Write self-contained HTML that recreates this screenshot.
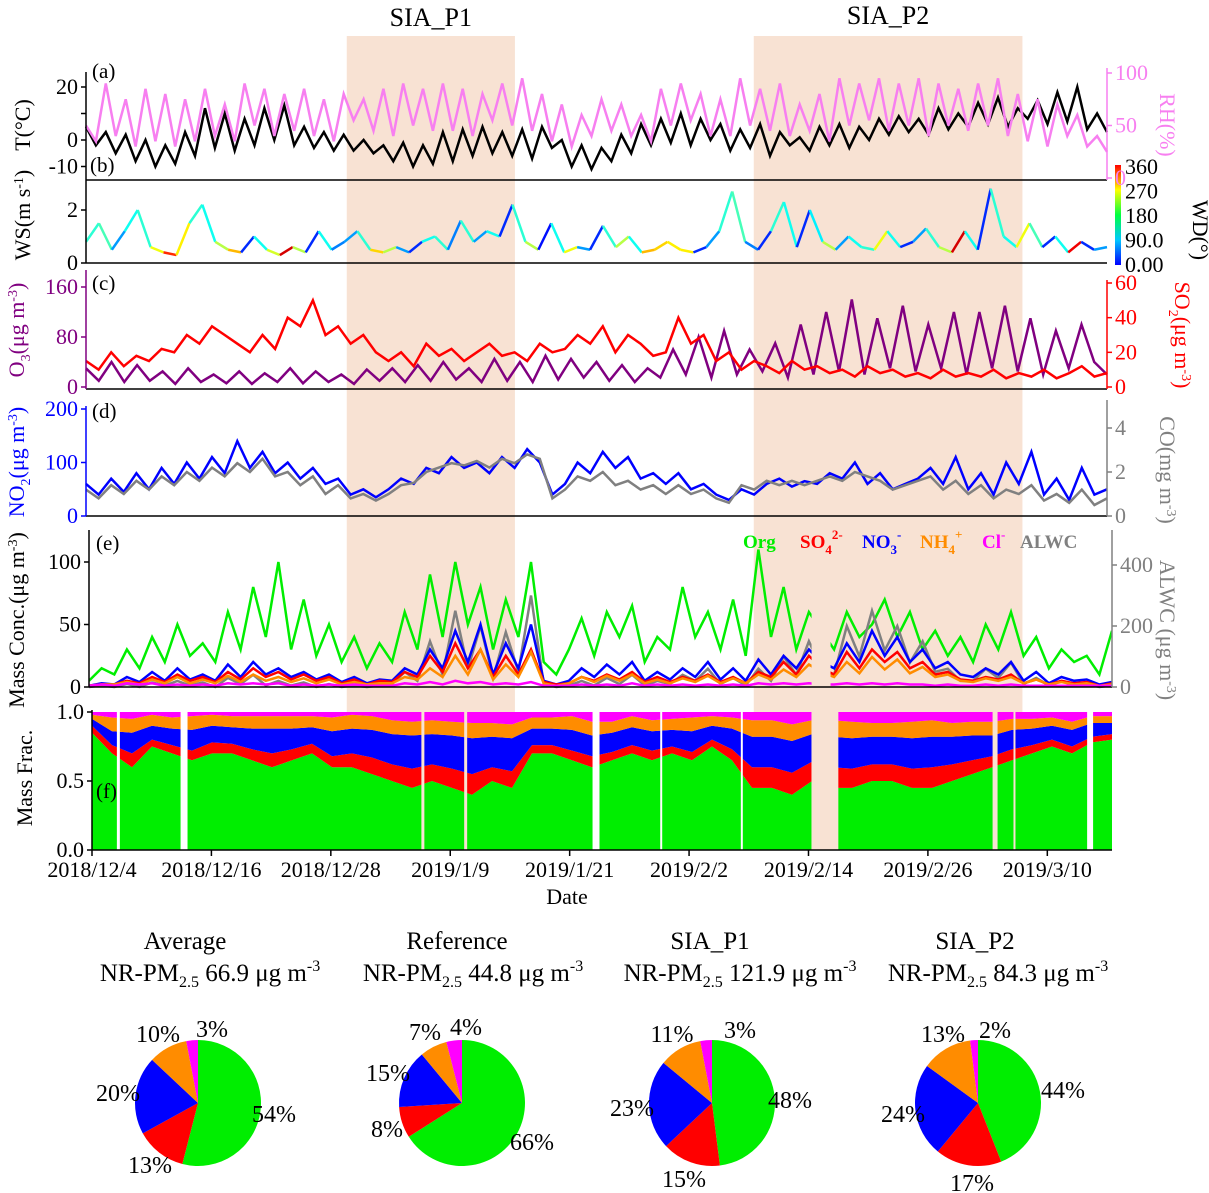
<!DOCTYPE html>
<html><head><meta charset="utf-8"><style>
body{margin:0;background:#fff}
svg{display:block}
text{font-family:"Liberation Serif","DejaVu Serif",serif}
</style></head><body>
<svg id="chart" width="1209" height="1193" viewBox="0 0 1209 1193" xmlns="http://www.w3.org/2000/svg" font-family="Liberation Serif, serif">
<defs>
<linearGradient id="jet" x1="0" y1="1" x2="0" y2="0">
<stop offset="0" stop-color="#0000ff"/><stop offset="0.25" stop-color="#00c8ff"/><stop offset="0.5" stop-color="#00ff40"/><stop offset="0.75" stop-color="#ffff00"/><stop offset="1" stop-color="#ff0000"/>
</linearGradient>
</defs>
<g id="shade"></g>
<g id="plots"></g>
<g id="axes"></g>
<g id="texts" font-size="20" fill="#000"></g>
<g id="pies"></g>
</svg>
<script>
// ---------- data ----------
const totalDays = 102.5;
const dateTicks = ["2018/12/4","2018/12/16","2018/12/28","2019/1/9","2019/1/21","2019/2/2","2019/2/14","2019/2/26","2019/3/10"];
const dateTickDays = [0,12,24,36,48,60,72,84,96];
const periods = [[25.6,42.5],[66.5,93.5]];
const periodNames = ["SIA_P1","SIA_P2"];
const tempC = [5,-2,3,-5,2,-8,0,-10,-2,-9,3,-6,12,-3,10,-4,8,-2,12,0,13,-2,5,-3,3,-4,2,-4,0,-5,-2,-8,-1,-10,-2,-9,3,-8,4,-6,5,-5,3,-6,4,-7,5,-3,0,-10,-2,-11,-3,-8,2,-5,6,-2,8,-1,10,-2,8,0,6,-4,4,-3,6,-6,3,-2,1,-4,5,-2,6,-3,5,0,8,2,9,3,8,2,12,4,10,5,14,6,16,5,12,8,15,6,18,7,20,4,10,3];
const rh = [50,35,90,40,75,30,85,35,80,30,75,35,85,40,70,35,90,50,85,40,80,45,85,40,75,35,80,55,75,45,85,40,90,50,85,45,90,45,85,40,80,55,90,50,95,45,80,35,70,30,60,40,75,45,70,40,60,35,85,50,90,55,80,40,75,40,95,50,85,45,90,40,70,45,80,35,95,50,90,55,95,45,90,50,95,40,90,50,85,45,90,50,95,40,80,35,75,30,70,40,60,30,40,25];
const ws = [0.8,1.5,0.5,1.2,2.0,0.6,0.4,0.3,1.5,2.2,0.8,0.5,0.4,1.0,0.5,0.3,0.6,0.4,1.2,0.5,0.8,1.2,0.5,0.4,0.6,0.4,0.8,1.0,0.5,1.6,0.8,1.2,1.0,2.2,0.8,0.5,1.5,0.4,0.6,0.5,1.4,0.6,1.0,0.4,0.5,0.8,0.5,0.4,0.6,1.2,2.7,0.8,0.5,1.2,2.3,0.6,2.0,0.8,0.5,1.0,0.6,0.5,1.2,0.6,0.8,1.3,0.6,0.4,1.2,0.5,2.8,1.0,0.6,1.5,0.6,1.0,0.4,0.8,0.5,0.6];
const wd = [150,160,100,140,150,220,300,230,150,140,200,250,60,140,210,330,200,60,140,90,100,150,240,200,100,60,140,150,90,150,100,140,60,150,200,50,140,220,100,60,150,200,140,250,240,230,230,60,100,150,160,90,60,150,140,60,130,200,100,140,150,220,140,60,100,150,200,330,140,60,150,140,220,160,60,140,320,60,100,200];
const o3 = [30,10,40,8,35,10,25,5,30,8,20,6,25,5,22,8,30,6,25,8,20,5,28,10,30,8,35,10,40,12,30,8,45,10,40,8,50,12,45,15,40,10,35,8,30,15,60,20,80,15,90,20,60,25,70,15,100,20,120,25,140,20,110,30,130,25,100,30,120,20,120,30,130,25,110,20,90,30,100,40,20];
const so2 = [15,10,20,12,18,15,22,20,30,25,35,30,25,20,30,22,40,35,50,30,35,25,30,20,15,20,12,25,18,22,15,20,25,18,20,15,25,20,22,30,25,35,20,30,25,18,20,40,25,30,15,20,10,15,12,8,15,10,12,8,10,6,12,8,10,6,8,5,10,6,8,6,10,5,8,6,10,5,8,12,6,8];
const no2 = [60,40,70,45,80,50,90,60,100,70,110,80,140,90,120,80,100,70,90,60,70,40,50,35,50,70,60,90,80,110,90,100,80,110,90,125,100,40,60,100,80,120,90,110,70,80,60,80,50,60,40,30,50,40,60,70,55,65,60,80,70,100,60,80,50,60,70,90,60,110,50,80,40,100,60,120,40,70,30,90,40,50];
const co = [1.2,0.8,1.4,1.0,1.6,1.2,1.8,1.4,2.0,1.6,2.2,1.8,2.4,2.0,2.6,1.8,2.0,1.4,1.8,1.0,1.4,0.8,1.0,0.7,1.0,1.4,1.5,2.0,2.2,2.4,2.3,2.5,2.2,2.6,2.4,2.8,2.6,0.8,1.2,1.8,1.6,2.0,1.4,1.6,1.2,1.4,1.0,1.4,1.0,1.2,0.8,0.6,1.4,1.2,1.6,1.4,1.6,1.4,1.6,1.8,1.6,2.0,1.8,1.6,1.2,1.4,1.6,1.8,1.2,1.6,1.0,1.4,0.8,1.2,1.0,1.4,0.7,1.0,0.6,1.2,0.5,0.8];
const org = [5,15,10,30,15,40,20,50,25,35,20,60,30,80,40,100,30,70,25,50,20,40,15,35,20,60,30,90,40,100,50,80,30,70,40,100,20,10,30,55,25,60,40,65,20,40,30,80,40,60,30,70,25,110,40,80,30,60,45,30,60,40,50,70,40,60,30,45,25,40,20,50,30,60,25,40,15,30,20,25,10,45];
const no3 = [1,3,2,8,4,12,5,15,6,10,5,18,8,20,10,15,8,12,6,10,4,8,3,6,5,15,10,30,15,45,20,50,10,35,15,50,5,2,5,15,8,18,10,20,5,12,6,15,8,20,6,15,5,22,10,25,15,30,20,15,35,20,45,25,40,20,30,15,20,10,8,15,10,20,5,12,3,8,5,6,2,4];
const so4 = [1,2,2,5,3,8,4,10,5,8,4,12,6,15,8,12,6,10,5,8,3,6,2,5,4,12,8,25,12,35,15,30,8,25,10,30,4,2,3,8,5,10,6,12,4,8,4,8,5,10,4,8,3,12,8,20,10,25,15,10,28,15,30,20,28,15,20,10,12,6,5,8,6,10,3,6,2,5,3,4,1,3];
const nh4 = [1,2,2,4,2,6,3,8,3,6,3,9,4,10,5,8,4,7,3,6,2,4,2,3,3,8,6,15,8,25,10,30,6,18,8,28,3,1,3,8,4,9,5,10,3,6,3,7,4,9,3,7,3,10,6,14,8,18,12,8,20,11,24,14,22,11,16,8,10,5,4,7,5,8,3,6,2,4,2,3,1,2];
const cl = [1,2,1,3,2,3,1,2,1,2,1,3,2,3,2,3,1,2,1,2,1,2,1,1,1,3,2,4,2,5,3,4,2,3,2,4,1,1,1,2,1,2,1,3,1,2,1,2,1,2,1,2,1,3,2,3,2,3,2,2,3,2,3,2,3,2,2,1,2,1,1,2,1,2,1,1,1,1,1,1,1,1];
const alwc = [0,5,0,10,0,15,5,20,5,15,0,30,10,40,5,20,5,15,0,10,0,5,0,5,10,50,20,150,40,250,60,200,30,180,50,300,10,0,5,20,5,30,10,40,5,20,10,40,20,60,10,30,5,60,20,100,40,150,60,40,200,100,250,120,200,80,150,50,60,20,20,60,30,80,10,30,5,20,5,10,0,5];
const concGaps = [[72.4,74.3]];
const fracOrg = [0.85,0.7,0.6,0.75,0.7,0.65,0.7,0.7,0.65,0.6,0.65,0.7,0.6,0.6,0.55,0.5,0.45,0.5,0.45,0.4,0.5,0.45,0.7,0.7,0.65,0.6,0.65,0.7,0.65,0.7,0.65,0.75,0.65,0.45,0.45,0.4,0.5,0.45,0.45,0.5,0.5,0.45,0.45,0.5,0.55,0.6,0.65,0.7,0.75,0.7,0.78,0.8];
const fracSO4 = [0.05,0.06,0.1,0.05,0.06,0.07,0.08,0.07,0.08,0.1,0.08,0.07,0.08,0.1,0.12,0.12,0.14,0.12,0.14,0.15,0.1,0.12,0.06,0.06,0.07,0.08,0.06,0.06,0.07,0.05,0.06,0.05,0.08,0.15,0.15,0.16,0.14,0.15,0.14,0.12,0.12,0.14,0.15,0.12,0.1,0.08,0.08,0.06,0.05,0.05,0.04,0.04];
const fracNO3 = [0.05,0.1,0.15,0.1,0.12,0.15,0.12,0.12,0.15,0.18,0.15,0.12,0.18,0.18,0.2,0.22,0.24,0.22,0.24,0.26,0.22,0.24,0.12,0.12,0.15,0.15,0.14,0.13,0.14,0.12,0.15,0.1,0.15,0.22,0.22,0.23,0.2,0.22,0.22,0.2,0.2,0.22,0.22,0.2,0.18,0.15,0.14,0.12,0.1,0.12,0.1,0.08];
const fracNH4 = [0.04,0.1,0.1,0.08,0.08,0.1,0.08,0.08,0.09,0.09,0.09,0.08,0.1,0.1,0.1,0.1,0.1,0.1,0.1,0.11,0.1,0.1,0.08,0.08,0.1,0.1,0.08,0.08,0.08,0.08,0.1,0.07,0.08,0.12,0.12,0.12,0.1,0.12,0.12,0.1,0.1,0.12,0.12,0.1,0.1,0.1,0.08,0.07,0.06,0.06,0.05,0.05];
const fracGaps = [[2.5,2.8],[8.9,9.6],[33.1,33.4],[37.4,37.7],[50.3,51],[57.1,57.3],[65.2,65.4],[72.3,75],[90.5,91],[92.6,92.8],[100,100.6]];
const pieNames = ["Average","Reference","SIA_P1","SIA_P2"];
const pieTotals = ["66.9","44.8","121.9","84.3"];
const pieOrg = [54,66,48,44];
const pieSO4 = [13,8,15,17];
const pieNO3 = [20,15,23,24];
const pieNH4 = [10,7,11,13];
const pieCl = [3,4,3,2];

// ---------- helpers ----------
const NS="http://www.w3.org/2000/svg";
function mk(tag,attrs,parent){const e=document.createElementNS(NS,tag);for(const k in attrs)e.setAttribute(k,attrs[k]);(parent||document.getElementById('plots')).appendChild(e);return e;}
const X0=86,X1=1107;
function xDay(d,x0,x1){x0=x0||X0;x1=x1||X1;return x0+(d/totalDays)*(x1-x0);}
function lin(v,v0,v1,p0,p1){return p0+(v-v0)/(v1-v0)*(p1-p0);}
function idxDay(i,n){return i*totalDays/(n-1);}
function linePath(arr,yf,x0,x1){return arr.map((v,i)=>(i?'L':'M')+xDay(idxDay(i,arr.length),x0,x1).toFixed(1)+','+yf(v).toFixed(1)).join('');}
const shadeG=document.getElementById('shade');
const axesG=document.getElementById('axes');
const textG=document.getElementById('texts');
function txt(s,x,y,opt,parent){opt=opt||{};const t=mk('text',Object.assign({x:x,y:y,'font-family':'Liberation Serif, serif'},opt.a||{}),parent||textG);t.innerHTML=s;return t;}

periods.forEach((p,i)=>{
 const r=mk('rect',{x:xDay(p[0],92,1112),y:36,width:xDay(p[1],92,1112)-xDay(p[0],92,1112),height:814,fill:'#f8e2d3'},shadeG);
 
 
 const t=txt(periodNames[i],xDay((p[0]+p[1])/2,92,1112),i?24:26,{a:{'text-anchor':'middle','font-size':26}});
 
 
});

function gapClip(id,gaps,x0,x1,y0,y1){
 const cp=mk('clipPath',{id:id},document.querySelector('defs'));
 let s=0;
 gaps.concat([[totalDays,totalDays]]).forEach(g=>{
  mk('rect',{x:xDay(s,x0,x1),y:y0,width:Math.max(0,xDay(g[0],x0,x1)-xDay(s,x0,x1)),height:y1-y0},cp);s=g[1];
 });
}
gapClip('concClip',concGaps,89,1112,517,700);
gapClip('fracClip',fracGaps,92,1112,705,852);

// panel a
const yT=v=>lin(v,0,20,140,87);
const yRH=v=>lin(v,0,100,178,73);
let p=mk('path',{d:linePath(tempC,yT),fill:'none',stroke:'#000','stroke-width':2.5});

p=mk('path',{d:linePath(rh,yRH),fill:'none',stroke:'#f77ff0','stroke-width':2.5});


// panel b
const yWS=v=>lin(v,0,2,263,210);
function jet(t){const c=x=>Math.round(255*Math.max(0,Math.min(1,1.5-Math.abs(x))));return 'rgb('+c(4*t-3)+','+c(4*t-2)+','+c(4*t-1)+')';}
for(let i=0;i<ws.length-1;i++){
 const s=mk('line',{x1:xDay(idxDay(i,ws.length)),y1:yWS(ws[i]),x2:xDay(idxDay(i+1,ws.length)),y2:yWS(ws[i+1]),stroke:jet(wd[i]/360),'stroke-width':2.5});
 
 
}

// panel c
const yO3=v=>lin(v,0,160,387,287);
const ySO2=v=>lin(v,0,60,387,283);
p=mk('path',{d:linePath(o3,yO3),fill:'none',stroke:'#800080','stroke-width':2.5});

p=mk('path',{d:linePath(so2,ySO2),fill:'none',stroke:'#ff0000','stroke-width':2.5});


// panel d
const yNO2=v=>lin(v,0,200,516,409);
const yCO=v=>lin(v,0,4,516,428);
p=mk('path',{d:linePath(no2,yNO2),fill:'none',stroke:'#0000ff','stroke-width':2.5});

p=mk('path',{d:linePath(co,yCO),fill:'none',stroke:'#808080','stroke-width':2.5});


// panel e
const yM=v=>lin(v,0,100,687,562);
const yA=v=>lin(v,0,400,687,565);
[[org,'#00ee00','org-line',yM],[alwc,'#808080','alwc-line',yA],[no3,'#0000ff','no3-line',yM],[so4,'#ff0000','so4-line',yM],[nh4,'#ff8c00','nh4-line',yM],[cl,'#ff00ff','cl-line',yM]].forEach(s=>{
 const e=mk('path',{d:linePath(s[0],s[3],89,1112),fill:'none',stroke:s[1],'stroke-width':2.5,'clip-path':'url(#concClip)'});
 
 
});

// panel f
const yF=v=>lin(v,0,1,850,712);
function areaPath(lo,hi){
 const n=lo.length;let d='';
 for(let i=0;i<n;i++)d+=(i?'L':'M')+xDay(idxDay(i,n),92,1112).toFixed(1)+','+yF(hi[i]).toFixed(1);
 for(let i=n-1;i>=0;i--)d+='L'+xDay(idxDay(i,n),92,1112).toFixed(1)+','+yF(lo[i]).toFixed(1);
 return d+'Z';
}
const zero=fracOrg.map(()=>0);
const c1=fracOrg.slice();
const c2=c1.map((v,i)=>v+fracSO4[i]);
const c3=c2.map((v,i)=>v+fracNO3[i]);
const c4=c3.map((v,i)=>Math.min(0.98,v+fracNH4[i]));
const one=fracOrg.map(()=>1);
[[zero,c1,'#00ee00','frac-org'],[c1,c2,'#ff0000','frac-so4'],[c2,c3,'#0000ff','frac-no3'],[c3,c4,'#ff8c00','frac-nh4'],[c4,one,'#ff00ff','frac-cl']].forEach(s=>{
 const e=mk('path',{d:areaPath(s[0],s[1]),fill:s[2],'clip-path':'url(#fracClip)'});
 
 
});

// axes
function ln(x1,y1,x2,y2,c,w){return mk('line',{x1:x1,y1:y1,x2:x2,y2:y2,stroke:c||'#000','stroke-width':w||1.5},axesG);}
ln(86,180,1107,180);ln(86,263,1107,263);
ln(86,72,86,180);ln(86,180,86,263);
ln(1107,68,1107,180,'#f77ff0');
ln(86,389,1107,389);ln(86,270,86,389,'#800080');ln(1107,280,1107,389,'#ff0000');
ln(86,516,1107,516);ln(86,406,86,516,'#0000ff');ln(1107,400,1107,516,'#808080');
ln(89,687,1112,687);ln(89,530,89,687);ln(1112,530,1112,687,'#808080');
ln(92,850,1112,850);ln(92,710,92,850);
function yTicks(vals,yf,x,side,color,fmt,fs){
 vals.forEach(v=>{const y=yf(v);ln(x,y,x+(side<0?-5:5),y,color);
  const t=txt(fmt?fmt(v):v,x+(side<0?-8:8),y+7,{a:{'text-anchor':side<0?'end':'start','font-size':fs||22,fill:color}});
  });
}
yTicks([-10,0,10,20],yT,86,-1,'#000',v=>v==10?'':v);
yTicks([0,50,100],yRH,1107,1,'#f77ff0');
yTicks([0,2],yWS,86,-1,'#000');
yTicks([0,80,160],yO3,86,-1,'#800080');
yTicks([0,20,40,60],ySO2,1107,1,'#ff0000');
yTicks([0,100,200],yNO2,86,-1,'#0000ff');
yTicks([0,2,4],yCO,1107,1,'#808080');
yTicks([0,50,100],yM,89,-1,'#000');
yTicks([0,200,400],yA,1112,1,'#808080');
yTicks([0,0.5,1],yF,92,-1,'#000',v=>v.toFixed(1));
dateTicks.forEach((s,i)=>{const x=xDay(dateTickDays[i],92,1112);ln(x,850,x,856);
 const t=txt(s,x,877,{a:{'text-anchor':'middle','font-size':22}});
 });
let t=txt('Date',567,904,{a:{'text-anchor':'middle','font-size':22}});

let cb=mk('rect',{x:1115,y:165,width:6,height:100,fill:'url(#jet)'},axesG);

['360','270','180','90.0','0.00'].forEach((s,i)=>{const tt=txt(s,1125,174+i*24.5,{a:{'font-size':22}});});
[['(a)',92,78],['(b)',90,172],['(c)',92,290],['(d)',92,418],['(e)',96,550],['(f)',96,798]].forEach(a=>{const tt=txt(a[0],a[1],a[2],{a:{'font-size':21}});});
function vtitle(html,x,y,color,rot,name){const tt=txt(html,x,y,{a:{'text-anchor':'middle','font-size':22,fill:color,transform:'rotate('+rot+' '+x+' '+y+')'}});}
vtitle('T(°C)',30,125,'#000',-90,'t-axis-title');
vtitle('RH(%)',1160,125,'#f77ff0',90,'rh-axis-title');
vtitle('WS(m s<tspan dy="-7" font-size="14">-1</tspan><tspan dy="7">)</tspan>',30,215,'#000',-90,'ws-axis-title');
vtitle('WD(°)',1193,230,'#000',90,'wd-axis-title');
vtitle('O<tspan dy="6" font-size="14">3</tspan><tspan dy="-6">(μg m</tspan><tspan dy="-7" font-size="14">-3</tspan><tspan dy="7">)</tspan>',24,330,'#800080',-90,'o3-axis-title');
vtitle('SO<tspan dy="6" font-size="14">2</tspan><tspan dy="-6">(μg m</tspan><tspan dy="-7" font-size="14">-3</tspan><tspan dy="7">)</tspan>',1175,335,'#ff0000',90,'so2-axis-title');
vtitle('NO<tspan dy="6" font-size="14">2</tspan><tspan dy="-6">(μg m</tspan><tspan dy="-7" font-size="14">-3</tspan><tspan dy="7">)</tspan>',24,462,'#0000ff',-90,'no2-axis-title');
vtitle('CO(mg m<tspan dy="-7" font-size="14">-3</tspan><tspan dy="7">)</tspan>',1160,470,'#808080',90,'co-axis-title');
vtitle('Mass Conc.(μg m<tspan dy="-7" font-size="14">-3</tspan><tspan dy="7">)</tspan>',24,620,'#000',-90,'mass-conc-axis-title');
vtitle('ALWC (μg m<tspan dy="-7" font-size="14">-3</tspan><tspan dy="7">)</tspan>',1160,630,'#808080',90,'alwc-axis-title');
vtitle('Mass Frac.',32,778,'#000',-90,'mass-frac-axis-title');
[['Org',743,'#00ee00'],['SO<tspan dy="6" font-size="13">4</tspan><tspan dy="-15" font-size="13">2-</tspan>',800,'#ff0000'],['NO<tspan dy="6" font-size="13">3</tspan><tspan dy="-15" font-size="13">-</tspan>',862,'#0000ff'],['NH<tspan dy="6" font-size="13">4</tspan><tspan dy="-15" font-size="13">+</tspan>',920,'#ff8c00'],['Cl<tspan dy="-9" font-size="13">-</tspan>',982,'#ff00ff'],['ALWC',1020,'#808080']].forEach(l=>{
 const tt=txt(l[0],l[1],548,{a:{'font-size':19,'font-weight':'bold',fill:l[2]}});
 
});

// pies
const pieG=document.getElementById('pies');
const pieCx=[198,462,712,978];
const pieColors=['#00ee00','#ff0000','#0000ff','#ff8c00','#ff00ff'];
const labelPos=[
 [[274,1122],[150,1173],[118,1101],[158,1042],[212,1037]],
 [[532,1150],[387,1137],[388,1081],[425,1040],[466,1035]],
 [[790,1108],[684,1187],[632,1116],[672,1042],[740,1038]],
 [[1063,1098],[972,1191],[903,1122],[943,1042],[995,1038]]];
const titleCx=[185,457,710,975];
const subCx=[210,473,740,998];
pieNames.forEach((nm,k)=>{
 const vals=[pieOrg[k],pieSO4[k],pieNO3[k],pieNH4[k],pieCl[k]];
 const tot=vals.reduce((a,b)=>a+b,0);
 const cx=pieCx[k],cy=1103,r=63;let a0=-Math.PI/2;
 vals.forEach((v,j)=>{
  const a1=a0+v/tot*2*Math.PI;
  const large=(a1-a0)>Math.PI?1:0;
  const d='M'+cx+','+cy+'L'+(cx+r*Math.cos(a0))+','+(cy+r*Math.sin(a0))+'A'+r+','+r+' 0 '+large+' 1 '+(cx+r*Math.cos(a1))+','+(cy+r*Math.sin(a1))+'Z';
  const s=mk('path',{d:d,fill:pieColors[j]},pieG);
  
  
  const lt=txt(v+'%',labelPos[k][j][0],labelPos[k][j][1],{a:{'text-anchor':'middle','font-size':24}},pieG);
  
  
  a0=a1;
 });
 const t1=txt(nm,titleCx[k],949,{a:{'text-anchor':'middle','font-size':25}},pieG);
 
 
 const t2=txt('NR-PM<tspan dy="6" font-size="16">2.5</tspan><tspan dy="-6"> '+pieTotals[k]+' μg m</tspan><tspan dy="-10" font-size="16">-3</tspan>',subCx[k],981,{a:{'text-anchor':'middle','font-size':25}},pieG);
 
 
});
</script>
</body></html>
